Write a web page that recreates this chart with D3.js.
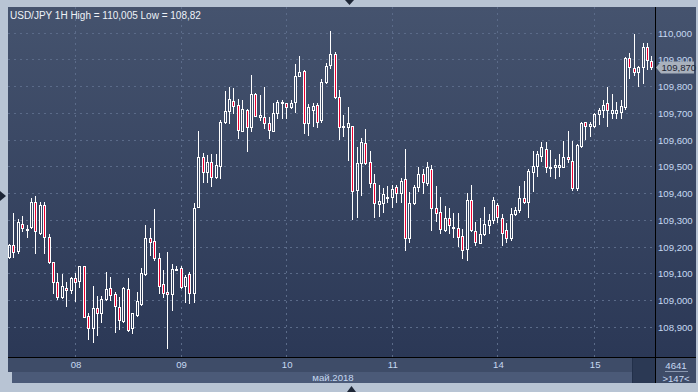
<!DOCTYPE html>
<html>
<head>
<meta charset="utf-8">
<script src="https://cdn.jsdelivr.net/npm/d3@7"></script>
<style>
  body { margin: 0; background: #b8c4d4; }
  svg { display: block; font-family: "Liberation Sans", Arial, sans-serif; }
</style>
</head>
<body>
<div id="chart"></div>
<script>
// hourly USD/JPY candles, 7..15 May 2018
const opens = [109.162,109.206,109.184,109.284,109.265,109.274,109.368,109.252,109.354,109.234,
  109.141,109.066,109.012,109.044,109.037,109.081,109.072,109.127,108.940,108.894,
  108.969,108.953,109.003,109.044,109.021,108.975,108.923,109.041,108.894,108.944,
  108.985,109.097,109.231,109.221,109.156,109.059,109.029,109.021,109.115,109.119,
  109.052,109.096,109.025,109.349,109.534,109.480,109.515,109.459,109.502,109.664,
  109.707,109.744,109.729,109.633,109.710,109.648,109.770,109.683,109.683,109.661,
  109.633,109.698,109.735,109.735,109.723,109.739,109.839,109.856,109.663,109.710,
  109.729,109.673,109.814,109.879,109.920,109.758,109.646,109.646,109.650,109.411,
  109.513,109.588,109.517,109.436,109.358,109.364,109.386,109.386,109.421,109.401,
  109.451,109.231,109.364,109.421,109.471,109.439,109.489,109.343,109.330,109.262,
  109.305,109.274,109.268,109.239,109.190,109.374,109.259,109.214,109.247,109.280,
  109.299,109.355,109.308,109.262,109.231,109.320,109.337,109.380,109.368,109.480,
  109.501,109.538,109.563,109.498,109.496,109.498,109.498,109.534,109.520,109.418,
  109.576,109.664,109.650,109.652,109.694,109.710,109.735,109.700,109.698,109.704,
  109.720,109.904,109.866,109.853,109.872,109.947,109.895];
const highs = [109.209,109.324,109.302,109.314,109.280,109.380,109.389,109.368,109.368,109.247,
  109.143,109.100,109.097,109.069,109.087,109.102,109.129,109.129,108.950,109.052,
  109.015,109.015,109.106,109.087,109.031,109.010,109.050,109.081,108.951,109.031,
  109.119,109.280,109.268,109.339,109.177,109.112,109.181,109.135,109.127,109.127,
  109.094,109.106,109.364,109.633,109.548,109.542,109.546,109.546,109.673,109.782,
  109.797,109.791,109.750,109.748,109.714,109.841,109.773,109.766,109.795,109.685,
  109.738,109.748,109.748,109.738,109.748,109.881,109.913,109.860,109.733,109.738,
  109.738,109.825,109.885,110.005,109.928,109.785,109.692,109.720,109.651,109.573,
  109.605,109.638,109.557,109.471,109.430,109.418,109.426,109.430,109.430,109.455,
  109.563,109.405,109.430,109.498,109.489,109.517,109.505,109.426,109.386,109.351,
  109.343,109.324,109.324,109.264,109.399,109.430,109.293,109.305,109.347,109.322,
  109.384,109.364,109.322,109.289,109.343,109.347,109.426,109.446,109.489,109.557,
  109.557,109.592,109.592,109.561,109.526,109.546,109.596,109.633,109.596,109.583,
  109.667,109.667,109.667,109.700,109.717,109.748,109.797,109.770,109.741,109.748,
  109.910,109.922,109.994,109.874,109.962,109.962,109.912];
const lows = [109.157,109.162,109.177,109.259,109.234,109.269,109.177,109.247,109.177,109.140,
  109.027,109.003,109.006,108.979,109.027,108.998,109.050,108.935,108.853,108.844,
  108.869,108.919,109.000,109.000,108.882,108.891,108.919,108.885,108.878,108.940,
  108.982,109.094,109.168,109.150,109.027,109.010,108.820,108.963,109.112,109.044,
  108.994,108.988,108.994,109.348,109.442,109.442,109.427,109.455,109.455,109.663,
  109.661,109.698,109.605,109.632,109.558,109.633,109.688,109.673,109.644,109.605,
  109.632,109.679,109.679,109.679,109.719,109.704,109.837,109.623,109.617,109.650,
  109.646,109.667,109.810,109.866,109.755,109.601,109.613,109.523,109.302,109.311,
  109.393,109.508,109.424,109.309,109.314,109.330,109.368,109.349,109.368,109.368,
  109.187,109.218,109.359,109.409,109.401,109.430,109.262,109.297,109.249,109.259,
  109.249,109.234,109.202,109.156,109.150,109.258,109.206,109.213,109.243,109.252,
  109.289,109.293,109.206,109.218,109.224,109.319,109.330,109.362,109.309,109.409,
  109.464,109.521,109.480,109.464,109.455,109.464,109.496,109.517,109.411,109.411,
  109.572,109.601,109.613,109.646,109.658,109.683,109.650,109.679,109.679,109.679,
  109.713,109.829,109.841,109.800,109.810,109.862,109.862];
const closes = [109.206,109.178,109.291,109.268,109.265,109.368,109.259,109.355,109.234,109.141,
  109.069,109.010,109.052,109.036,109.083,109.069,109.127,108.938,108.894,108.969,
  108.950,109.004,109.041,109.019,108.978,108.925,109.044,108.888,108.950,108.996,
  109.100,109.231,109.216,109.156,109.052,109.027,109.021,109.115,109.115,109.050,
  109.087,109.025,109.343,109.534,109.480,109.517,109.459,109.505,109.664,109.707,
  109.750,109.725,109.636,109.713,109.648,109.770,109.689,109.692,109.661,109.636,
  109.698,109.739,109.740,109.720,109.735,109.837,109.851,109.663,109.720,109.725,
  109.667,109.816,109.876,109.920,109.758,109.648,109.650,109.661,109.409,109.513,
  109.592,109.513,109.439,109.364,109.370,109.396,109.386,109.414,109.399,109.445,
  109.231,109.364,109.421,109.471,109.442,109.496,109.343,109.326,109.264,109.305,
  109.280,109.274,109.234,109.187,109.374,109.262,109.218,109.247,109.284,109.299,
  109.374,109.311,109.252,109.231,109.320,109.337,109.380,109.365,109.483,109.501,
  109.545,109.571,109.496,109.498,109.505,109.505,109.534,109.526,109.420,109.580,
  109.663,109.650,109.657,109.695,109.710,109.729,109.710,109.710,109.710,109.725,
  109.904,109.872,109.853,109.872,109.947,109.897,109.870];

const priceTicks = [108.9,109.0,109.1,109.2,109.3,109.4,109.5,109.6,109.7,109.8,109.9,110.0];
const dayLabels = ["08","09","10","11","14","15"];
const dayStart = [15,39,63,87,111,133];
const lastPrice = 109.870;

const W = 698, H = 392;
const plotL = 8, plotR = 655, plotT = 7, plotB = 357;
const labelColor = "#c6d9f2";

const svg = d3.select("#chart").append("svg")
  .attr("width", W).attr("height", H);

const defs = svg.append("defs");
const grad = defs.append("linearGradient").attr("id", "bg")
  .attr("gradientUnits", "userSpaceOnUse")
  .attr("x1", 0).attr("y1", plotT).attr("x2", 0).attr("y2", plotB);
grad.append("stop").attr("offset", 0).attr("stop-color", "#45536e");
grad.append("stop").attr("offset", 1).attr("stop-color", "#2b3856");

// frame + plot background
svg.append("rect").attr("width", W).attr("height", H).attr("fill", "#b8c4d4");
svg.append("rect").attr("x", plotL).attr("y", plotT).attr("width", 696 - plotL).attr("height", plotB - plotT)
  .attr("fill", "url(#bg)");

const x = d3.scaleLinear().domain([0, 146]).range([9, 651.4]);
const y = d3.scaleLinear().domain([108.9, 110.0]).range([326.8, 32.5]);

// dashed grid
const grid = svg.append("g").attr("stroke", "#5b6b89").attr("stroke-dasharray", "2,4").attr("stroke-width", 1);
grid.selectAll("line.h").data(priceTicks).enter().append("line")
  .attr("x1", plotL).attr("x2", plotR)
  .attr("y1", d => Math.round(y(d)) + 0.5).attr("y2", d => Math.round(y(d)) + 0.5);
grid.selectAll("line.v").data(dayStart).enter().append("line")
  .attr("y1", plotT).attr("y2", plotB)
  .attr("x1", d => Math.round(x(d)) + 0.5).attr("x2", d => Math.round(x(d)) + 0.5);

// candles
const candles = d3.range(opens.length).map(i => ({
  i: i, o: opens[i], h: highs[i], l: lows[i], c: closes[i]
}));

const cg = svg.append("g");
candles.forEach(d => {
  const cx = Math.round(x(d.i));
  const top = Math.round(y(Math.max(d.o, d.c)));
  const bot = Math.round(y(Math.min(d.o, d.c)));
  const hy = Math.round(y(d.h));
  const ly = Math.round(y(d.l));
  if (hy < top) {
    cg.append("line").attr("x1", cx + 0.5).attr("x2", cx + 0.5)
      .attr("y1", hy).attr("y2", top).attr("stroke", "#fff");
  }
  if (ly > bot) {
    cg.append("line").attr("x1", cx + 0.5).attr("x2", cx + 0.5)
      .attr("y1", bot + 1).attr("y2", ly + 1).attr("stroke", "#fff");
  }
  cg.append("rect")
    .attr("x", cx - 0.5).attr("y", top + 0.5)
    .attr("width", 2).attr("height", Math.max(bot - top, 1))
    .attr("fill", d.c < d.o ? "#ee0030" : "none")
    .attr("stroke", "#fff").attr("stroke-width", 1);
});

// title
svg.append("text").attr("x", 10).attr("y", 18.5)
  .attr("fill", "#eef2f8").attr("font-size", "10px")
  .text("USD/JPY 1H High = 110,005 Low = 108,82");

// right price axis
const fmt = d3.format(".3f");
const yAxis = d3.axisRight(y).tickValues(priceTicks).tickSize(0).tickPadding(0)
  .tickFormat(d => fmt(d).replace(".", ","));
const ya = svg.append("g").attr("transform", "translate(658,0.5)").call(yAxis);
ya.select(".domain").remove();
ya.selectAll("text").attr("fill", labelColor).attr("font-size", "9.6px")
  .attr("font-family", "Liberation Sans, Arial, sans-serif");

// last price tag (covers part of the 109,900 label, as in the original)
const py = Math.round(y(lastPrice)) + 0.5;
svg.append("path")
  .attr("d", `M656,${py} L661,${py - 6} L694,${py - 6} L694,${py + 6} L661,${py + 6} Z`)
  .attr("fill", "#a9b1bd");
svg.append("text").attr("x", 661.5).attr("y", py + 3.4)
  .attr("fill", "#1c2433").attr("font-size", "9.6px").text(fmt(lastPrice).replace(".", ","));

// bottom panel
svg.append("rect").attr("x", plotL).attr("y", 358).attr("width", plotR - plotL).attr("height", 14).attr("fill", "#3e4c68");
svg.append("rect").attr("x", 12).attr("y", 372).attr("width", 620).attr("height", 11).attr("fill", "#4b5a78");
svg.append("rect").attr("x", 632).attr("y", 358).attr("width", 23).attr("height", 25).attr("fill", "#2b3954");
svg.append("line").attr("x1", 632.5).attr("x2", 632.5).attr("y1", 358).attr("y2", 383).attr("stroke", "#22304a");
svg.append("rect").attr("x", 656).attr("y", 358).attr("width", 40).attr("height", 25).attr("fill", "#3e4c68");

const xAxis = d3.axisBottom(x).tickValues(dayStart).tickSize(0).tickPadding(0)
  .tickFormat((d, i) => dayLabels[i]);
const xa = svg.append("g").attr("transform", "translate(0.5,361)").call(xAxis);
xa.select(".domain").remove();
xa.selectAll("text").attr("fill", labelColor).attr("font-size", "9.6px")
  .attr("font-family", "Liberation Sans, Arial, sans-serif");

svg.append("text").attr("x", 333).attr("y", 380.5).attr("text-anchor", "middle")
  .attr("fill", labelColor).attr("font-size", "9.6px").text("май.2018");

svg.append("text").attr("x", 676).attr("y", 368.5).attr("text-anchor", "middle")
  .attr("fill", labelColor).attr("font-size", "9.6px").text("4641");
svg.append("line").attr("x1", 665).attr("x2", 688).attr("y1", 371.5).attr("y2", 371.5).attr("stroke", "#8a98b0");
svg.append("text").attr("x", 676).attr("y", 381.5).attr("text-anchor", "middle")
  .attr("fill", labelColor).attr("font-size", "9.6px").text(">147<");

// black separators
svg.append("line").attr("x1", plotL).attr("x2", 696).attr("y1", 357.5).attr("y2", 357.5).attr("stroke", "#000");
svg.append("line").attr("x1", 655.5).attr("x2", 655.5).attr("y1", plotT).attr("y2", 383).attr("stroke", "#000");

// small arrows on the frame
svg.append("path").attr("d", "M345,0 L354,0 L349.5,5 Z").attr("fill", "#1d2636");
svg.append("path").attr("d", "M0,191 L6,196 L0,201 Z").attr("fill", "#1d2636");
svg.append("path").attr("d", "M347,392 L356,392 L351.5,386 Z").attr("fill", "#1d2636");
</script>
</body>
</html>
